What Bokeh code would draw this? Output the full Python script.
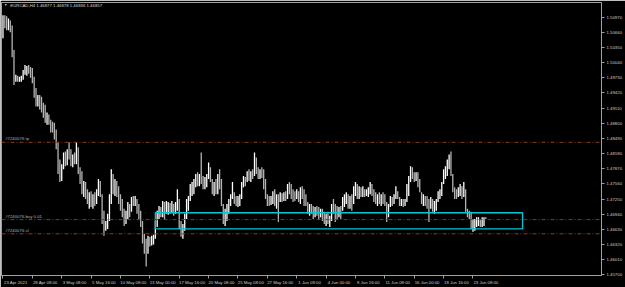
from bokeh.plotting import figure
from bokeh.models import Range1d, FixedTicker, PrintfTickFormatter, ColumnDataSource, Label, Span
from bokeh.embed import file_html
from bokeh.resources import INLINE
from bokeh.core.properties import value

# ---------------- data (EURCAD H4) ----------------
HIGH = [1.5101, 1.5101, 1.5099, 1.5094, 1.5090, 1.5080, 1.5030, 1.4979, 1.4977, 1.4975,
        1.4977, 1.4989, 1.4999, 1.4997, 1.4999, 1.4995, 1.4993, 1.4975, 1.4952, 1.4938,
        1.4938, 1.4934, 1.4922, 1.4918, 1.4902, 1.4898, 1.4887, 1.4883, 1.4881, 1.4867,
        1.4841, 1.4806, 1.4796, 1.4820, 1.4822, 1.4827, 1.4841, 1.4827, 1.4816, 1.4820,
        1.4841, 1.4831, 1.4790, 1.4782, 1.4762, 1.4760, 1.4745, 1.4739, 1.4741, 1.4735,
        1.4739, 1.4745, 1.4766, 1.4762, 1.4735, 1.4701, 1.4680, 1.4695, 1.4735, 1.4786,
        1.4776, 1.4766, 1.4762, 1.4751, 1.4735, 1.4725, 1.4705, 1.4701, 1.4719, 1.4715,
        1.4729, 1.4731, 1.4731, 1.4725, 1.4715, 1.4701, 1.4680, 1.4654, 1.4644, 1.4650,
        1.4648, 1.4650, 1.4652, 1.4680, 1.4701, 1.4711, 1.4709, 1.4721, 1.4719, 1.4721,
        1.4719, 1.4717, 1.4721, 1.4715, 1.4719, 1.4745, 1.4725, 1.4680, 1.4674, 1.4695,
        1.4725, 1.4731, 1.4756, 1.4760, 1.4766, 1.4776, 1.4780, 1.4776, 1.4820, 1.4772,
        1.4770, 1.4776, 1.4800, 1.4790, 1.4766, 1.4760, 1.4766, 1.4776, 1.4786, 1.4766,
        1.4715, 1.4705, 1.4715, 1.4725, 1.4735, 1.4760, 1.4739, 1.4731, 1.4731, 1.4735,
        1.4760, 1.4772, 1.4770, 1.4782, 1.4786, 1.4782, 1.4786, 1.4820, 1.4810, 1.4790,
        1.4786, 1.4790, 1.4786, 1.4766, 1.4735, 1.4731, 1.4731, 1.4741, 1.4745, 1.4735,
        1.4735, 1.4739, 1.4737, 1.4739, 1.4741, 1.4756, 1.4760, 1.4756, 1.4745, 1.4741,
        1.4745, 1.4741, 1.4749, 1.4751, 1.4745, 1.4735, 1.4719, 1.4715, 1.4715, 1.4711,
        1.4709, 1.4711, 1.4709, 1.4705, 1.4705, 1.4699, 1.4695, 1.4699, 1.4691, 1.4715,
        1.4725, 1.4715, 1.4711, 1.4709, 1.4711, 1.4729, 1.4735, 1.4739, 1.4735, 1.4731,
        1.4735, 1.4751, 1.4760, 1.4756, 1.4751, 1.4749, 1.4751, 1.4745, 1.4745, 1.4749,
        1.4760, 1.4756, 1.4745, 1.4739, 1.4735, 1.4739, 1.4735, 1.4739, 1.4735, 1.4719,
        1.4715, 1.4731, 1.4729, 1.4735, 1.4751, 1.4741, 1.4729, 1.4725, 1.4725, 1.4725,
        1.4756, 1.4772, 1.4792, 1.4790, 1.4780, 1.4780, 1.4780, 1.4766, 1.4739, 1.4735,
        1.4731, 1.4731, 1.4725, 1.4729, 1.4725, 1.4721, 1.4725, 1.4741, 1.4745, 1.4760,
        1.4786, 1.4792, 1.4806, 1.4816, 1.4822, 1.4776, 1.4749, 1.4745, 1.4749, 1.4756,
        1.4751, 1.4760, 1.4745, 1.4705, 1.4701, 1.4699, 1.4684, 1.4684, 1.4688, 1.4688,
        1.4684, 1.4688, 1.4688, 1.4688]

LOW = [1.5054, 1.5074, 1.5070, 1.5070, 1.5066, 1.5015, 1.4958, 1.4965, 1.4965, 1.4965,
       1.4965, 1.4969, 1.4979, 1.4977, 1.4981, 1.4973, 1.4962, 1.4932, 1.4914, 1.4914,
       1.4908, 1.4902, 1.4891, 1.4881, 1.4877, 1.4877, 1.4861, 1.4861, 1.4847, 1.4827,
       1.4776, 1.4760, 1.4762, 1.4786, 1.4792, 1.4794, 1.4806, 1.4792, 1.4790, 1.4796,
       1.4796, 1.4776, 1.4756, 1.4735, 1.4729, 1.4725, 1.4715, 1.4705, 1.4709, 1.4705,
       1.4711, 1.4715, 1.4731, 1.4729, 1.4674, 1.4650, 1.4660, 1.4664, 1.4680, 1.4715,
       1.4735, 1.4731, 1.4729, 1.4715, 1.4701, 1.4688, 1.4670, 1.4674, 1.4684, 1.4688,
       1.4699, 1.4711, 1.4711, 1.4695, 1.4684, 1.4668, 1.4634, 1.4613, 1.4587, 1.4613,
       1.4628, 1.4630, 1.4632, 1.4644, 1.4668, 1.4684, 1.4688, 1.4688, 1.4684, 1.4695,
       1.4693, 1.4695, 1.4697, 1.4691, 1.4695, 1.4701, 1.4664, 1.4648, 1.4644, 1.4660,
       1.4684, 1.4701, 1.4721, 1.4731, 1.4735, 1.4749, 1.4751, 1.4751, 1.4756, 1.4745,
       1.4745, 1.4749, 1.4766, 1.4760, 1.4735, 1.4731, 1.4735, 1.4735, 1.4745, 1.4711,
       1.4674, 1.4670, 1.4680, 1.4695, 1.4711, 1.4725, 1.4715, 1.4711, 1.4709, 1.4711,
       1.4725, 1.4749, 1.4751, 1.4760, 1.4762, 1.4760, 1.4766, 1.4772, 1.4776, 1.4766,
       1.4766, 1.4768, 1.4745, 1.4725, 1.4711, 1.4711, 1.4713, 1.4715, 1.4711, 1.4705,
       1.4678, 1.4719, 1.4719, 1.4721, 1.4721, 1.4725, 1.4735, 1.4725, 1.4719, 1.4721,
       1.4725, 1.4719, 1.4715, 1.4725, 1.4711, 1.4711, 1.4695, 1.4691, 1.4695, 1.4684,
       1.4688, 1.4691, 1.4684, 1.4688, 1.4680, 1.4674, 1.4670, 1.4674, 1.4668, 1.4680,
       1.4695, 1.4678, 1.4684, 1.4688, 1.4684, 1.4701, 1.4709, 1.4715, 1.4705, 1.4705,
       1.4701, 1.4715, 1.4731, 1.4725, 1.4725, 1.4729, 1.4729, 1.4729, 1.4731, 1.4729,
       1.4735, 1.4731, 1.4719, 1.4715, 1.4711, 1.4715, 1.4711, 1.4715, 1.4711, 1.4678,
       1.4688, 1.4709, 1.4711, 1.4715, 1.4725, 1.4725, 1.4711, 1.4711, 1.4709, 1.4711,
       1.4719, 1.4731, 1.4760, 1.4766, 1.4760, 1.4762, 1.4749, 1.4739, 1.4715, 1.4711,
       1.4711, 1.4705, 1.4678, 1.4705, 1.4699, 1.4695, 1.4701, 1.4719, 1.4725, 1.4731,
       1.4756, 1.4766, 1.4772, 1.4786, 1.4772, 1.4739, 1.4725, 1.4725, 1.4729, 1.4731,
       1.4725, 1.4729, 1.4699, 1.4688, 1.4684, 1.4664, 1.4658, 1.4660, 1.4668, 1.4670,
       1.4668, 1.4668, 1.4670, 1.4684]

CLOSE = [1.5090, 1.5086, 1.5080, 1.5086, 1.5074, 1.5025, 1.4973, 1.4973, 1.4969, 1.4971,
         1.4973, 1.4985, 1.4989, 1.4993, 1.4989, 1.4985, 1.4969, 1.4938, 1.4920, 1.4932,
         1.4928, 1.4908, 1.4904, 1.4887, 1.4891, 1.4883, 1.4871, 1.4867, 1.4857, 1.4831,
         1.4786, 1.4770, 1.4792, 1.4810, 1.4800, 1.4816, 1.4812, 1.4802, 1.4810, 1.4806,
         1.4827, 1.4786, 1.4766, 1.4745, 1.4756, 1.4735, 1.4725, 1.4729, 1.4715, 1.4725,
         1.4719, 1.4735, 1.4756, 1.4735, 1.4684, 1.4668, 1.4674, 1.4688, 1.4725, 1.4766,
         1.4745, 1.4756, 1.4741, 1.4725, 1.4709, 1.4695, 1.4684, 1.4695, 1.4709, 1.4701,
         1.4721, 1.4719, 1.4725, 1.4705, 1.4695, 1.4674, 1.4644, 1.4634, 1.4624, 1.4640,
         1.4634, 1.4644, 1.4648, 1.4674, 1.4695, 1.4701, 1.4695, 1.4715, 1.4701, 1.4709,
         1.4715, 1.4705, 1.4713, 1.4701, 1.4709, 1.4715, 1.4674, 1.4664, 1.4668, 1.4688,
         1.4715, 1.4725, 1.4745, 1.4751, 1.4756, 1.4770, 1.4762, 1.4770, 1.4766, 1.4756,
         1.4762, 1.4770, 1.4786, 1.4766, 1.4745, 1.4751, 1.4741, 1.4766, 1.4756, 1.4715,
         1.4695, 1.4701, 1.4705, 1.4719, 1.4729, 1.4735, 1.4725, 1.4719, 1.4725, 1.4729,
         1.4756, 1.4766, 1.4762, 1.4776, 1.4770, 1.4778, 1.4776, 1.4796, 1.4782, 1.4776,
         1.4782, 1.4776, 1.4756, 1.4731, 1.4725, 1.4719, 1.4725, 1.4735, 1.4721, 1.4729,
         1.4725, 1.4731, 1.4725, 1.4735, 1.4731, 1.4749, 1.4745, 1.4739, 1.4735, 1.4731,
         1.4739, 1.4729, 1.4741, 1.4735, 1.4725, 1.4715, 1.4705, 1.4709, 1.4701, 1.4699,
         1.4705, 1.4699, 1.4695, 1.4701, 1.4688, 1.4684, 1.4688, 1.4680, 1.4684, 1.4709,
         1.4705, 1.4701, 1.4695, 1.4705, 1.4701, 1.4719, 1.4725, 1.4731, 1.4715, 1.4725,
         1.4715, 1.4745, 1.4749, 1.4735, 1.4745, 1.4739, 1.4741, 1.4735, 1.4741, 1.4745,
         1.4751, 1.4739, 1.4729, 1.4725, 1.4729, 1.4721, 1.4731, 1.4725, 1.4715, 1.4695,
         1.4711, 1.4725, 1.4719, 1.4731, 1.4735, 1.4731, 1.4719, 1.4721, 1.4715, 1.4721,
         1.4745, 1.4766, 1.4786, 1.4776, 1.4770, 1.4774, 1.4756, 1.4745, 1.4725, 1.4729,
         1.4719, 1.4715, 1.4711, 1.4719, 1.4709, 1.4715, 1.4719, 1.4735, 1.4739, 1.4751,
         1.4776, 1.4782, 1.4796, 1.4806, 1.4776, 1.4749, 1.4739, 1.4735, 1.4741, 1.4745,
         1.4735, 1.4745, 1.4705, 1.4695, 1.4691, 1.4674, 1.4678, 1.4680, 1.4680, 1.4684,
         1.4674, 1.4680, 1.4688, 1.4686]
FIRST_OPEN = 1.5072

TIME_LABELS = ["23 Apr 2021", "28 Apr 08:00", "3 May 08:00", "5 May 16:00", "10 May 08:00",
               "13 May 00:00", "17 May 16:00", "20 May 08:00", "25 May 08:00", "27 May 16:00",
               "1 Jun 08:00", "4 Jun 00:00", "8 Jun 16:00", "11 Jun 08:00", "16 Jun 00:00",
               "18 Jun 16:00", "23 Jun 08:00"]
TIME_LABEL_BARS = [0, 16, 32, 48, 64, 80, 96, 112, 128, 144, 160, 176, 192, 208, 224, 240, 256]

PRICE_TICKS = [1.45700, 1.46010, 1.46320, 1.46630, 1.46940, 1.47250, 1.47560, 1.47870, 1.48180,
               1.48490, 1.48800, 1.49110, 1.49420, 1.49730, 1.50040, 1.50350, 1.50660, 1.50970]

ORDER_LEVELS = [1.4841, 1.4683, 1.4654]          # tp, buy, sl
ORDER_TEXTS = ["#7240076 tp", "#7240076 buy 0.01", "#7240076 sl"]
ZONE_TOP, ZONE_BOTTOM = 1.4697, 1.4664
ZONE_START, ZONE_END = 83, 283
BID = 1.46857
HEADER = "EURCAD,H4  1.46877 1.46878 1.46836 1.46857"

# ---------------- layout helpers ----------------
PX_PER_BAR = 1.842
FONT_NAME = "Liberation Sans"
FONT = value(FONT_NAME)
FS = "4.3px"
GREY = "#a0a0a0"
TXT = "#cccccc"

p = figure(width=625, height=287, output_backend="svg", toolbar_location=None,
           x_range=Range1d(-0.8, 326.0), y_range=Range1d(1.45687, 1.51269),
           background_fill_color="black", border_fill_color="black",
           min_border_left=1, min_border_top=2, min_border_right=22, min_border_bottom=10,
           y_axis_location="right", x_axis_location="below")
p.grid.visible = False
p.outline_line_color = GREY

n = min(len(HIGH), len(LOW), len(CLOSE))
idx = list(range(n))
opens = [FIRST_OPEN] + CLOSE[:n - 1]
colors = ["#ffffff" if CLOSE[i] >= opens[i] else "#b4b4b4" for i in idx]
src = ColumnDataSource(dict(x=idx, hi=HIGH[:n], lo=LOW[:n], c=colors))
p.segment(x0="x", y0="lo", x1="x", y1="hi", line_color="c", line_width=1.3, source=src)

# order lines
level_colors = ["#8e3a1c", "#1f6a1f", "#8e3a1c"]
for lvl, col in zip(ORDER_LEVELS, level_colors):
    p.add_layout(Span(location=lvl, dimension="width", line_color=col,
                      line_dash="4 2 1 2", line_width=1))

p.text(x=[1.2] * 3, y=ORDER_LEVELS, text=ORDER_TEXTS, text_font=FONT,
       text_font_size=FS, text_color="#b4b4b4", text_baseline="bottom", y_offset=-1)

# zone rectangle
p.quad(left=[ZONE_START], right=[ZONE_END], top=[ZONE_TOP], bottom=[ZONE_BOTTOM],
       fill_alpha=0, line_color="#00c8d4", line_width=1.3)

# header
p.text(x=[0.6], y=[1.5121], text=["\u25BC"], text_font=FONT, text_font_size="3.5px",
       text_color="#c8c8c8", text_baseline="middle")
p.text(x=[4.0], y=[1.5121], text=[HEADER], text_font=FONT, text_font_size=FS,
       text_color="#d8d8d8", text_baseline="middle")

# right price axis
ya = p.yaxis[0]
ya.ticker = FixedTicker(ticks=PRICE_TICKS)
ya.formatter = PrintfTickFormatter(format="%.5f")
ya.major_label_text_font = FONT_NAME
ya.major_label_text_font_size = FS
ya.major_label_text_color = TXT
ya.major_tick_out = 3
ya.major_tick_in = 0
ya.minor_tick_line_color = None
ya.axis_line_color = GREY
ya.major_tick_line_color = GREY
ya.major_label_standoff = 2

# bottom time axis: labels start just right of their tick marks
label_pos = [int(round(b + (len(t) * 2.0 / 2 + 1.5) / PX_PER_BAR)) for b, t in zip(TIME_LABEL_BARS, TIME_LABELS)]
overrides = {}
for pos, t in zip(label_pos, TIME_LABELS):
    overrides[pos] = t
    overrides[str(pos)] = t
xa = p.xaxis[0]
xa.ticker = FixedTicker(ticks=label_pos, minor_ticks=TIME_LABEL_BARS)
xa.major_label_overrides = overrides
xa.major_label_text_font = FONT_NAME
xa.major_label_text_font_size = FS
xa.major_label_text_color = TXT
xa.major_tick_line_color = None
xa.major_tick_out = 2
xa.major_tick_in = 0
xa.minor_tick_line_color = GREY
xa.minor_tick_out = 3
xa.minor_tick_in = 0
xa.axis_line_color = GREY
xa.major_label_standoff = 1

# current price box on the price scale
p.add_layout(Label(x=326.0, y=BID, text="1.46857", text_font=FONT_NAME, text_font_size=FS,
                   text_color="black", text_baseline="middle", text_align="left", x_offset=1,
                   background_fill_color="#e6e6e6", padding=1))

open("out.html", "w").write(file_html(p, INLINE))
